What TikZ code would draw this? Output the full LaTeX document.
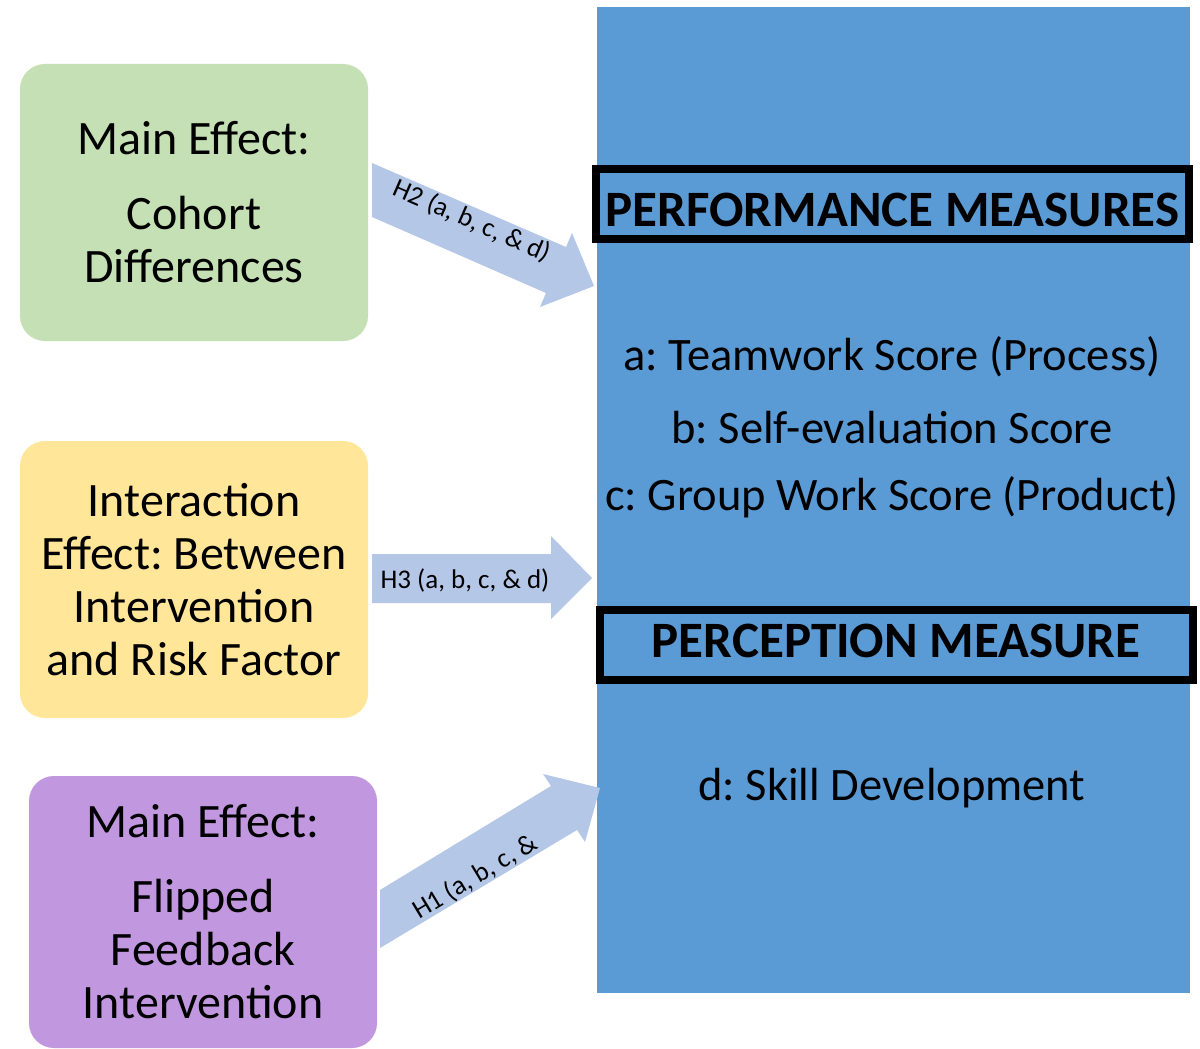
\documentclass[tikz,border=0pt]{standalone}
\usepackage{fontspec}
\setmainfont{Carlito}
\frenchspacing
\definecolor{panelblue}{HTML}{5B9BD5}
\definecolor{greenfill}{HTML}{C5E0B4}
\definecolor{yellowfill}{HTML}{FFE699}
\definecolor{purplefill}{HTML}{C198DF}
\definecolor{arrowblue}{HTML}{B4C7E7}
\tikzset{
  effect/.style={rounded corners=25pt, minimum width=348pt, minimum height=277pt,
    inner sep=0pt, align=center, font=\fontsize{48}{53}\selectfont},
  header/.style={draw=black, line width=8pt, minimum width=593pt, minimum height=70pt,
    inner sep=0pt, text depth=0pt, font=\bfseries\fontsize{51}{56}\selectfont},
  item/.style={inner sep=0pt, font=\fontsize{46.5}{52}\selectfont},
  hyp/.style={inner sep=0pt, font=\fontsize{27}{30}\selectfont},
  blockarrow/.style={fill=arrowblue}
}
\begin{document}
\begin{tikzpicture}[x=1pt,y=-1pt]
\clip (0,0) rectangle (1200,1049);
\fill[white] (0,0) rectangle (1200,1049);

% outcome panel
\node[fill=panelblue, minimum width=593pt, minimum height=986pt, inner sep=0pt] (panel) at (893.5,500) {};
\node[header, text height=44pt] (perf) at (892.5,204) {PERFORMANCE MEASURES};
\node[item] (a) at (892,357) {a: Teamwork Score (Process)};
\node[item] (b) at (892,428) {b: Self-evaluation Score};
\node[item] (c) at (892,497) {c: Group Work Score (Product)};
\node[header, text height=32pt, text depth=8pt] (perc) at (896,645) {PERCEPTION MEASURE};
\node[item] (d) at (892,788) {d: Skill Development};

% predictor boxes
\node[effect, fill=greenfill] (cohort) at (194,202.5) {Main Effect:\\[22pt]Cohort\\Differences};
\node[effect, fill=yellowfill] (inter) at (194,579.5) {Interaction\\Effect: Between\\Intervention\\and Risk Factor};
\node[effect, fill=purplefill, minimum height=272pt] (flip) at (203,912) {Main Effect:\\[22pt]Flipped\\Feedback\\Intervention};

% hypothesis arrows
\fill[blockarrow] (372,163) -- (566,247) -- (572,233) -- (594,286) -- (540,307) -- (546,293) -- (372,217) -- cycle;
\node[hyp, rotate=-23.5] (h2) at (472,221) {H2 (a, b, c, \& d)};

\fill[blockarrow] (372,554) -- (551,554) -- (551,536) -- (592,578) -- (551,619) -- (551,603) -- (372,603) -- cycle;
\node[hyp] (h3) at (465,580) {H3 (a, b, c, \& d)};

\fill[blockarrow] (380,890) -- (551,786) -- (543,774) -- (600,788) -- (585,842) -- (577,830) -- (380,948) -- cycle;
\node[hyp, rotate=31] (h1) at (475,877) {H1 (a, b, c, \&};
\end{tikzpicture}
\end{document}
